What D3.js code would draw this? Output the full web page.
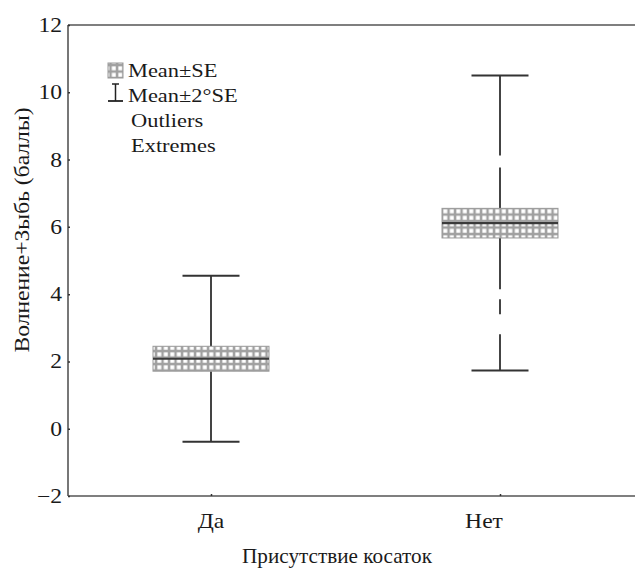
<!DOCTYPE html>
<html><head><meta charset="utf-8">
<script src="https://cdn.jsdelivr.net/npm/d3@7"></script>
<style>body{margin:0;background:#fff}svg{display:block}</style>
</head><body>
<svg id="c" width="635" height="569"></svg>
<script>
const categories = ["Да", "Нет"];
const means = [2.08, 6.11];
const se = [0.37, 0.44];
const whiskerLow = [-0.39, 1.73];
const whiskerHigh = [4.55, 10.5];
const yTicks = [-2, 0, 2, 4, 6, 8, 10, 12];
const legendItems = ["Mean±SE", "Mean±2°SE", "Outliers", "Extremes"];
const yTitle = "Волнение+Зыбь (баллы)";
const xTitle = "Присутствие косаток";

const FONT = "'Liberation Serif', 'DejaVu Serif', serif";
const svg = d3.select("#c");
const mLeft = 68, mTop = 25, mBottom = 496, mRight = 635;
const y = d3.scaleLinear().domain([-2, 12]).range([mBottom, mTop]);
const x = d3.scalePoint().domain(categories).range([211, 500]);

function txt(sel, px, py, s, size, anchor, sx) {
  return sel.append("text").attr("transform", `translate(${px},${py}) scale(${sx || 1.18},1)`)
    .attr("font-family", FONT).attr("font-size", size).attr("fill", "#1a1a1a")
    .attr("text-anchor", anchor).text(s);
}

const defs = svg.append("defs");
const pat = defs.append("pattern").attr("id", "grid").attr("patternUnits", "userSpaceOnUse")
  .attr("width", 6.5).attr("height", 6.5).attr("x", 0).attr("y", 0);
pat.append("rect").attr("width", 6.5).attr("height", 6.5).attr("fill", "#a0a0a0");
pat.append("rect").attr("x", 1.3).attr("y", 1.3).attr("width", 4).attr("height", 4).attr("fill", "#fff");

const axisColor = "#555";
svg.append("line").attr("x1", mLeft).attr("x2", mLeft).attr("y1", mTop).attr("y2", mBottom)
  .attr("stroke", axisColor).attr("stroke-width", 1.6);
svg.append("line").attr("x1", mLeft).attr("x2", mRight).attr("y1", mTop).attr("y2", mTop)
  .attr("stroke", axisColor).attr("stroke-width", 1.6);
svg.append("line").attr("x1", mLeft).attr("x2", mRight).attr("y1", mBottom).attr("y2", mBottom)
  .attr("stroke", axisColor).attr("stroke-width", 1.6);

const ya = svg.append("g").attr("transform", `translate(${mLeft},0)`)
  .call(d3.axisRight(y).tickValues(yTicks).tickSize(2).tickFormat(""));
ya.select(".domain").remove();
ya.selectAll(".tick line").attr("stroke", "#333").attr("stroke-width", 1.5);
const yl = svg.append("g");
yTicks.forEach(d => txt(yl, mLeft - 6, y(d) + 7, d < 0 ? "\u2212" + Math.abs(d) : String(d), 20, "end"));

const xa = svg.append("g").attr("transform", `translate(0,${mBottom})`)
  .call(d3.axisTop(x).tickSize(2).tickFormat(""));
xa.select(".domain").remove();
xa.selectAll(".tick line").attr("stroke", "#333").attr("stroke-width", 1.5);
const xl = svg.append("g");
categories.forEach((d, i) => txt(xl, i === 0 ? x(d) : x(d) - 16, 528, d, 20, "middle"));

svg.append("text").attr("transform", "translate(29,230) rotate(-90) scale(1.18,1)")
  .attr("font-family", FONT).attr("font-size", 20).attr("fill", "#1a1a1a")
  .attr("text-anchor", "middle").text(yTitle);
txt(svg, 337, 563, xTitle, 20, "middle", 1.06);

const dashUp = ["none", "80 12 200"];
const dashDown = ["none", "51.3 10 15 20 200"];
const g = svg.append("g");
categories.forEach((c, i) => {
  const cx = x(c);
  g.append("line").attr("x1", cx).attr("x2", cx)
    .attr("y1", y(whiskerHigh[i])).attr("y2", y(means[i] + se[i]))
    .attr("stroke", "#444").attr("stroke-width", 2).attr("stroke-dasharray", dashUp[i]);
  g.append("line").attr("x1", cx).attr("x2", cx)
    .attr("y1", y(means[i] - se[i])).attr("y2", y(whiskerLow[i]))
    .attr("stroke", "#444").attr("stroke-width", 2).attr("stroke-dasharray", dashDown[i]);
  [whiskerHigh[i], whiskerLow[i]].forEach(v => {
    g.append("line").attr("x1", cx - 28.5).attr("x2", cx + 28.5)
      .attr("y1", y(v)).attr("y2", y(v)).attr("stroke", "#333").attr("stroke-width", 2);
  });
  g.append("rect").attr("x", cx - 58).attr("width", 116)
    .attr("y", y(means[i] + se[i])).attr("height", y(means[i] - se[i]) - y(means[i] + se[i]))
    .attr("fill", "url(#grid)").attr("stroke", "#999").attr("stroke-width", 1);
  g.append("line").attr("x1", cx - 58).attr("x2", cx + 58)
    .attr("y1", y(means[i])).attr("y2", y(means[i])).attr("stroke", "#3a3a3a").attr("stroke-width", 2.2);
});

const lg = svg.append("g");
lg.append("rect").attr("x", 108).attr("y", 63).attr("width", 15).attr("height", 15)
  .attr("fill", "url(#grid)").attr("stroke", "#999").attr("stroke-width", 1);
lg.append("line").attr("x1", 115.5).attr("x2", 115.5).attr("y1", 84).attr("y2", 101).attr("stroke", "#222").attr("stroke-width", 1.5);
lg.append("line").attr("x1", 112).attr("x2", 119).attr("y1", 84).attr("y2", 84).attr("stroke", "#222").attr("stroke-width", 1.5);
lg.append("line").attr("x1", 108).attr("x2", 123).attr("y1", 101).attr("y2", 101).attr("stroke", "#222").attr("stroke-width", 1.8);
legendItems.forEach((d, i) => txt(lg, i < 2 ? 128 : 131, 77 + i * 25, d, 19, "start"));
</script>
</body></html>
